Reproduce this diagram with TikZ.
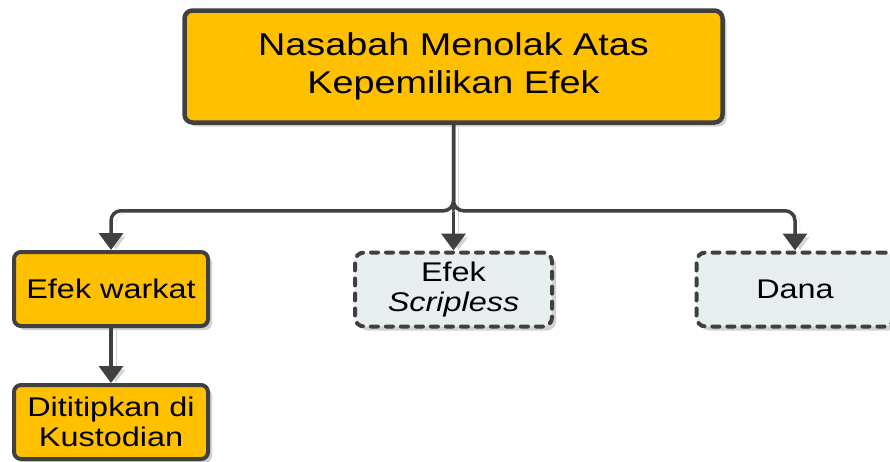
\documentclass[tikz,border=0pt]{standalone}
\usepackage{fontspec}
\setmainfont{Liberation Sans}[FakeStretch=1.2]
\usepackage{tikz}
\usetikzlibrary{positioning,shadows,arrows.meta}

\definecolor{boxgold}{HTML}{FFC000}
\definecolor{edgegray}{HTML}{404040}
\definecolor{mist}{HTML}{E8EEF0}

\begin{document}
\begin{tikzpicture}[
    x=1pt, y=-1pt,
    main/.style={rectangle, rounded corners=8pt, draw=edgegray, line width=4.5pt, fill=boxgold, minimum width=538pt, minimum height=112pt, align=center, font=\fontsize{31.5}{38}\selectfont, drop shadow={shadow xshift=4pt, shadow yshift=-4pt, fill=black!18, opacity=1}},
    solid box/.style={rectangle, rounded corners=7pt, draw=edgegray, line width=4pt, fill=boxgold, minimum width=194pt, minimum height=74pt, align=center, font=\fontsize{27}{30}\selectfont, drop shadow={shadow xshift=4pt, shadow yshift=-4pt, fill=black!18, opacity=1}},
    open box/.style={rectangle, rounded corners=9pt, draw=edgegray, line width=4pt, dash pattern=on 7pt off 8pt, line cap=round, fill=mist, minimum width=197pt, minimum height=74pt, align=center, font=\fontsize{27}{30}\selectfont, drop shadow={shadow xshift=4pt, shadow yshift=-4pt, fill=black!18, opacity=1}},
    link/.style={draw=edgegray, line width=3.5pt, rounded corners=10pt, -{Triangle[width=24pt,length=17pt]}, preaction={draw=black!17, transform canvas={xshift=5pt,yshift=-2pt}}}
]
\useasboundingbox (0,0) rectangle (890,461);

% Boxes
\node[main] (root) at (453.5,66.5) {Nasabah Menolak Atas\\Kepemilikan Efek};
\node[solid box] (warkat) at (111,289) {Efek warkat};
\node[open box] (scripless) at (453.5,289.5) {Efek\\\textit{Scripless}};
\node[open box] (dana) at (795,289.5) {Dana};
\node[solid box, below=55pt of warkat] (kustodian) {Dititipkan di\\Kustodian};

% Connectors
\path (root.south) ++(0,86) coordinate (fork);
\draw[link] (root.south) -- (scripless.north);
\draw[link] (root.south) -- (fork) -| (warkat.north);
\draw[link] (root.south) -- (fork) -| (dana.north);
\draw[link] (warkat) -- (kustodian);

\end{tikzpicture}
\end{document}
